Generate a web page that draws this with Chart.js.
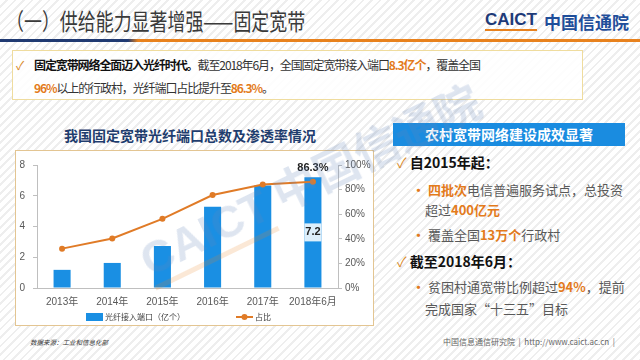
<!DOCTYPE html>
<html><head><meta charset="utf-8">
<script src="https://cdn.jsdelivr.net/npm/chart.js@4.4.0/dist/chart.umd.min.js"></script>
<style>
html,body{margin:0;padding:0;width:640px;height:360px;overflow:hidden;}
body{position:relative;font-family:"Noto Sans CJK SC","Liberation Sans",sans-serif;
background:repeating-linear-gradient(135deg,#ffffff 0,#ffffff 4px,#eeeeee 4px,#eeeeee 6px);}
.abs{position:absolute;white-space:nowrap;}
.or{color:#e37b1c;font-weight:bold;}
.chk{color:#d98a2b;}
</style>
</head><body>
<!-- header -->
<div class="abs" style="left:6px;top:5px;font-size:23px;line-height:30px;color:#3a3a3a;transform:scaleX(0.78);transform-origin:0 50%;">（一）供给能力显著增强——固定宽带</div>
<div class="abs" style="left:485px;top:10px;font-family:'Liberation Sans',sans-serif;font-weight:bold;font-size:17px;line-height:19px;color:#1e3a78;border-bottom:2px solid #e8821e;">CAICT</div>
<div class="abs" style="left:544px;top:10px;font-size:17px;line-height:23px;font-weight:bold;color:#1f4e9a;">中国信通院</div>
<div class="abs" style="left:0;top:39px;width:640px;height:3px;background:linear-gradient(to right,#203a72 0,#203a72 128px,#e8821e 138px,#e8821e 100%);"></div>

<!-- top text box -->
<div class="abs" style="left:12px;top:50px;width:571px;height:50px;box-sizing:border-box;border:1px solid #efdc9e;background:rgba(255,255,255,0.85);"></div>
<div class="abs" style="left:16px;top:56px;font-size:12px;line-height:18px;color:#333;"><span class="chk">✓</span></div>
<div class="abs" style="left:34px;top:56px;font-size:12px;line-height:18px;letter-spacing:-1.1px;color:#333;"><b style="color:#111">固定宽带网络全面迈入光纤时代。</b>截至2018年6月，全国固定宽带接入端口<span class="or">8.3亿个</span>，覆盖全国</div>
<div class="abs" style="left:34px;top:79px;font-size:12px;line-height:18px;letter-spacing:-1.1px;color:#333;"><span class="or">96%</span>以上的行政村，光纤端口占比提升至<span class="or">86.3%</span>。</div>

<!-- chart -->
<div class="abs" style="left:40px;top:125px;width:300px;text-align:center;font-size:14px;line-height:20px;font-weight:bold;color:#1f3d6e;">我国固定宽带光纤端口总数及渗透率情况</div>
<div class="abs" style="left:15px;top:150px;width:359px;height:176px;box-sizing:border-box;border:1px solid #e3c592;background:#fff;"></div>
<canvas id="c" width="356" height="174" style="position:absolute;left:16px;top:151px;"></canvas>
<div class="abs" style="left:30px;top:337px;font-size:6.5px;line-height:10px;font-style:italic;color:#333;">数据来源：工业和信息化部</div>

<!-- right panel -->
<div class="abs" style="left:393px;top:123px;width:232px;height:23px;background:#1a8ce0;color:#fff;font-weight:bold;font-size:14px;line-height:23px;text-align:center;">农村宽带网络建设成效显著</div>
<div class="abs" style="left:397px;top:152px;font-size:14px;line-height:20px;color:#111;"><span class="chk">✓</span>&nbsp;<b>自2015年起：</b></div>
<div class="abs" style="left:412px;top:180px;font-size:13px;line-height:20px;color:#595959;"><span class="or">·</span>&nbsp;<span class="or">四批次</span>电信普遍服务试点，总投资</div>
<div class="abs" style="left:425px;top:200px;font-size:13px;line-height:20px;color:#595959;">超过<span class="or">400亿元</span></div>
<div class="abs" style="left:412px;top:225px;font-size:13px;line-height:20px;color:#595959;"><span class="or">·</span>&nbsp;覆盖全国<span class="or">13万个</span>行政村</div>
<div class="abs" style="left:397px;top:251px;font-size:14px;line-height:20px;color:#111;"><span class="chk">✓</span>&nbsp;<b>截至2018年6月：</b></div>
<div class="abs" style="left:412px;top:277px;font-size:13px;line-height:20px;color:#595959;"><span class="or">·</span>&nbsp;贫困村通宽带比例超过<span class="or">94%</span>，提前</div>
<div class="abs" style="left:425px;top:299px;font-size:13px;line-height:20px;color:#595959;">完成国家“十三五”目标</div>
<div class="abs" style="left:443px;top:337px;font-size:8px;line-height:10px;color:#666;">中国信息通信研究院&nbsp;&nbsp;|&nbsp;&nbsp;http://www.caict.ac.cn&nbsp;&nbsp;|</div>

<!-- watermark -->
<div class="abs" style="left:310px;top:180px;font-size:45px;line-height:48px;font-weight:bold;color:rgba(100,130,185,0.21);transform:translate(-50%,-50%) rotate(-26deg);pointer-events:none;"><span style="font-family:'Liberation Sans',sans-serif;border-bottom:5px solid rgba(232,130,30,0.18);">CAICT</span> 中国信通院</div>

<script>
const categories = ['2013年','2014年','2015年','2016年','2017年','2018年6月'];
const fiberPorts = [1.18, 1.63, 2.73, 5.28, 6.66, 7.2];   // 亿个
const fiberShare = [32.0, 40.2, 56.2, 75.6, 84.1, 86.3];  // %
const seriesNames = ['光纤接入端口（亿个）', '占比'];
const leftAxis = {min: 0, max: 8, step: 2};
const rightAxis = {min: 0, max: 100, step: 20};

const BLUE = '#1a8fe3', ORANGE = '#e07b27', AXIS = '#bfbfbf', TICK = '#595959';
const FONT = "'Liberation Sans','Noto Sans CJK SC',sans-serif";

const valueLabels = {
  id: 'valueLabels',
  afterDatasetsDraw(chart) {
    const ctx = chart.ctx;
    const i = categories.length - 1;
    const bar = chart.getDatasetMeta(1).data[i];
    const pt = chart.getDatasetMeta(0).data[i];
    ctx.save();
    ctx.font = 'bold 11px ' + FONT;
    ctx.textAlign = 'center'; ctx.textBaseline = 'middle';
    const by = (bar.y + bar.base) / 2;
    ctx.fillStyle = '#ddeffb';
    ctx.fillRect(bar.x - bar.width / 2, by - 9, bar.width, 18);
    ctx.fillStyle = '#222';
    ctx.fillText(String(fiberPorts[i]), bar.x, by);
    ctx.fillText(fiberShare[i] + '%', pt.x, pt.y - 14);
    ctx.restore();
  }
};

const bottomLegend = {
  id: 'bottomLegend',
  afterDraw(chart) {
    const ctx = chart.ctx, ca = chart.chartArea;
    const y = chart.height - 8;
    ctx.save();
    ctx.font = "8px 'Noto Sans CJK SC',sans-serif";
    ctx.textBaseline = 'middle'; ctx.textAlign = 'left';
    const w0 = ctx.measureText(seriesNames[0]).width;
    const w1 = ctx.measureText(seriesNames[1]).width;
    const mk = 17, gap = 2, sp = 51;
    const total = mk + gap + w0 + sp + mk + gap + w1;
    let x = (ca.left + ca.right) / 2 - 9 - total / 2;
    ctx.fillStyle = BLUE;
    ctx.fillRect(x, y - 4, mk, 8);
    ctx.fillStyle = '#404040';
    ctx.fillText(seriesNames[0], x + mk + gap, y);
    x += mk + gap + w0 + sp;
    ctx.strokeStyle = ORANGE; ctx.lineWidth = 2;
    ctx.beginPath(); ctx.moveTo(x, y); ctx.lineTo(x + mk, y); ctx.stroke();
    ctx.fillStyle = ORANGE;
    ctx.beginPath(); ctx.arc(x + mk / 2, y, 3, 0, Math.PI * 2); ctx.fill();
    ctx.fillStyle = '#404040';
    ctx.fillText(seriesNames[1], x + mk + gap, y);
    ctx.restore();
  }
};

new Chart(document.getElementById('c'), {
  data: {
    labels: categories,
    datasets: [
      {type: 'line', label: seriesNames[1], data: fiberShare, yAxisID: 'y1', order: 0,
       borderColor: ORANGE, backgroundColor: ORANGE, borderWidth: 2,
       pointRadius: 3, pointBackgroundColor: ORANGE, pointBorderWidth: 0, tension: 0},
      {type: 'bar', label: seriesNames[0], data: fiberPorts, yAxisID: 'y', order: 1,
       backgroundColor: BLUE, barPercentage: 0.34, categoryPercentage: 1}
    ]
  },
  options: {
    responsive: false, animation: false,
    layout: {padding: {top: 7, bottom: 9, left: 0, right: 0}},
    plugins: {legend: {display: false}, tooltip: {enabled: false}},
    scales: {
      x: {grid: {display: false, drawTicks: false}, border: {color: AXIS},
          ticks: {padding: 8, color: TICK, maxRotation: 0, minRotation: 0, autoSkip: false,
                  font: {size: 10, family: FONT}}},
      y: {position: 'left', min: leftAxis.min, max: leftAxis.max,
          ticks: {stepSize: leftAxis.step, padding: 8, color: TICK, font: {size: 10, family: FONT}},
          grid: {drawOnChartArea: false, tickLength: 4, color: AXIS}, border: {color: AXIS},
          afterFit(s) { s.width = 21; }},
      y1: {position: 'right', min: rightAxis.min, max: rightAxis.max,
          ticks: {stepSize: rightAxis.step, padding: 3, color: TICK, font: {size: 10, family: FONT},
                  callback: v => v + '%'},
          grid: {drawOnChartArea: false, tickLength: 4, color: AXIS}, border: {color: AXIS},
          afterFit(s) { s.width = 34; }}
    }
  },
  plugins: [valueLabels, bottomLegend]
});
</script>
</body></html>
